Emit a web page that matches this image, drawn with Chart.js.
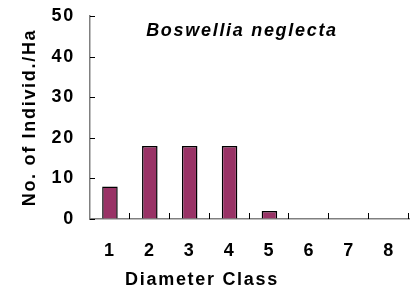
<!DOCTYPE html>
<html>
<head>
<meta charset="utf-8">
<script src="https://cdn.jsdelivr.net/npm/chart.js@4.4.0/dist/chart.umd.min.js"></script>
<style>
  html, body { margin: 0; padding: 0; background: #fff; }
  #grafik { display: block; }
</style>
</head>
<body>
<canvas id="grafik" width="410" height="294"></canvas>
<script>
const kelas = ['1', '2', '3', '4', '5', '6', '7', '8'];
const individuPerHa = [8, 18, 18, 18, 2, 0, 0, 0];
const judul = 'Boswellia neglecta';
const judulX = 'Diameter Class';
const judulY = 'No. of Individ./Ha';

const FONT = '"Liberation Sans", Arial, sans-serif';
const fontTebal = { family: FONT, size: 18, weight: 'bold' };

// jarak huruf agak lebar, seperti grafik Excel lama
const spasiHuruf = {
    id: 'spasiHuruf',
    beforeUpdate(chart) { chart.ctx.letterSpacing = '1.7px'; },
    beforeDraw(chart) { chart.ctx.letterSpacing = '1.7px'; }
};

// tanda sumbu menghadap ke dalam (x: di batas kelas, y: di tiap angka)
const tandaSumbu = {
    id: 'tandaSumbu',
    afterDatasetsDraw(chart) {
        const ctx = chart.ctx;
        const sx = chart.scales.x;
        const sy = chart.scales.y;
        const lebar = sx.getPixelForValue(1) - sx.getPixelForValue(0);
        ctx.save();
        ctx.strokeStyle = '#000';
        ctx.lineWidth = 1;
        ctx.beginPath();
        for (let i = 1; i <= kelas.length; i++) {
            const px = Math.round(sx.getPixelForValue(i) - lebar / 2) - 0.5;
            ctx.moveTo(px, sx.top);
            ctx.lineTo(px, sx.top - 6);
        }
        sy.ticks.forEach(t => {
            const py = Math.round(sy.getPixelForValue(t.value)) + 0.5;
            ctx.moveTo(sy.right, py);
            ctx.lineTo(sy.right + 5, py);
        });
        ctx.stroke();
        ctx.restore();
    }
};

// judul spesies (di dalam area grafik) dan judul sumbu x
const teksTambahan = {
    id: 'teksTambahan',
    afterDraw(chart) {
        const ctx = chart.ctx;
        const area = chart.chartArea;
        ctx.save();
        ctx.fillStyle = '#000';
        ctx.textAlign = 'center';
        ctx.textBaseline = 'middle';
        ctx.font = 'italic bold 18px ' + FONT;
        ctx.fillText(judul, area.left + 152, area.top + 15);
        ctx.font = 'bold 18px ' + FONT;
        ctx.fillText(judulX, chart.width / 2 - 3, 280);
        ctx.restore();
    }
};

new Chart(document.getElementById('grafik'), {
    type: 'bar',
    data: {
        labels: kelas,
        datasets: [{
            data: individuPerHa,
            backgroundColor: '#993366',
            borderColor: '#000',
            borderWidth: 1.5,
            categoryPercentage: 1,
            barPercentage: 0.39
        }]
    },
    options: {
        responsive: false,
        animation: false,
        layout: { padding: { top: 16, right: 1, left: 0, bottom: 0 } },
        plugins: {
            legend: { display: false },
            tooltip: { enabled: false }
        },
        scales: {
            x: {
                grid: { drawOnChartArea: false, offset: true, tickLength: -6, color: 'rgba(0,0,0,0)' },
                border: { color: '#808080', width: 1.5 },
                ticks: { color: '#000', font: fontTebal, padding: 27, maxRotation: 0 },
                afterFit(s) {
                    s.height = 75;
                    s.paddingLeft = 0;
                    s.paddingRight = 0;
                }
            },
            y: {
                min: 0,
                max: 50,
                grid: { drawOnChartArea: false, tickLength: -5, color: 'rgba(0,0,0,0)' },
                border: { color: '#808080', width: 1.5 },
                ticks: { stepSize: 10, color: '#000', font: fontTebal, padding: 20 },
                title: {
                    display: true,
                    text: judulY,
                    color: '#000',
                    font: fontTebal,
                    padding: { top: 19, bottom: 0 }
                },
                afterFit(s) {
                    s.width = 90;
                    s.paddingTop = 0;
                    s.paddingBottom = 0;
                }
            }
        }
    },
    plugins: [spasiHuruf, tandaSumbu, teksTambahan]
});
</script>
</body>
</html>
